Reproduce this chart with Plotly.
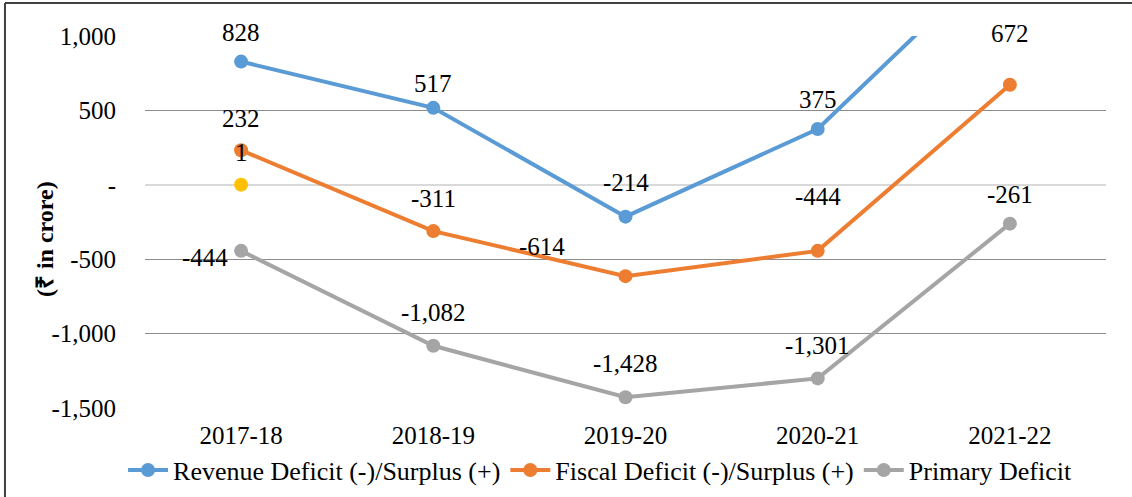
import plotly.graph_objects as go

years = ["2017-18", "2018-19", "2019-20", "2020-21", "2021-22"]
revenue = [828, 517, -214, 375, 1612]
fiscal = [232, -311, -614, -444, 672]
primary = [-444, -1082, -1428, -1301, -261]
extra = [1, None, None, None, None]
tick_vals = [1000, 500, 0, -500, -1000, -1500]
tick_text = ["1,000", "500", "-", "-500", "-1,000", "-1,500"]

names = ["Revenue Deficit (-)/Surplus (+)", "Fiscal Deficit (-)/Surplus (+)", "Primary Deficit"]
colors = ["#5B9BD5", "#ED7D31", "#A5A5A5"]

FONT = "Liberation Serif"

fig = go.Figure()
for name, vals, col in zip(names, [revenue, fiscal, primary], colors):
    fig.add_trace(go.Scatter(x=years, y=vals, name=name, mode="lines+markers",
                             line=dict(color=col, width=4), marker=dict(size=14, color=col),
                             cliponaxis=True))
fig.add_trace(go.Scatter(x=years, y=extra, name="", mode="markers", showlegend=False,
                         marker=dict(size=14, color="#FFC000")))

# label offsets (xshift, yshift) in px -- styling only
offsets = {
    0: [(0, 29), (0, 24), (0, 34), (0, 30), None],
    1: [(0, 32), (0, 33), (-84, 30), (0, 54), (0, 51)],
    2: [(-36, -7), (0, 33), (0, 34), (0, 33), (0, 29)],
    3: [(0, 32), None, None, None, None],
}
for si, vals in enumerate([revenue, fiscal, primary, extra]):
    for i, v in enumerate(vals):
        off = offsets[si][i]
        if v is None or off is None:
            continue
        fig.add_annotation(x=years[i], y=v, text=f"{v:,}", showarrow=False,
                           xshift=off[0], yshift=off[1],
                           font=dict(family=FONT, size=25, color="black"))

fig.add_annotation(xref="paper", yref="paper", x=-0.1197, y=0.454, text="<b>(₹ in crore)</b>",
                   textangle=-90, showarrow=False, font=dict(family=FONT, size=24, color="black"))

# outer border (left & top visible)
fig.add_shape(type="line", xref="paper", yref="paper", x0=-0.1457, x1=1.05, y0=1.0887, y1=1.0887,
              line=dict(color="#404040", width=2))
fig.add_shape(type="line", xref="paper", yref="paper", x0=-0.1457, x1=-0.1457, y0=-0.3, y1=1.0887,
              line=dict(color="#404040", width=2))

fig.update_layout(
    width=1132, height=497,
    margin=dict(l=145, r=26, t=36, b=89, autoexpand=False),
    paper_bgcolor="white", plot_bgcolor="white",
    font=dict(family=FONT, size=25, color="black"),
    showlegend=True,
    legend=dict(orientation="h", x=0.4735, xanchor="center", y=-0.167, yanchor="middle",
                font=dict(family=FONT, size=26, color="black"), itemwidth=40, tracegroupgap=0),
    xaxis=dict(type="category", range=[-0.5, 4.5], showgrid=False, showline=False, automargin=False,
               ticks="", ticklabelstandoff=10, tickfont=dict(family=FONT, size=25, color="black")),
    yaxis=dict(range=[-1500, 1000], tickvals=tick_vals, ticktext=tick_text, automargin=False,
               showgrid=True, gridcolor="#8c8c8c", gridwidth=1,
               zeroline=True, zerolinecolor="#d9d9d9", zerolinewidth=2,
               showline=False, ticks="", ticklabelstandoff=28,
               tickfont=dict(family=FONT, size=25, color="black")),
)

fig.write_html("out.html", config={"displayModeBar": False},
               post_script="document.body.style.margin='0';")
